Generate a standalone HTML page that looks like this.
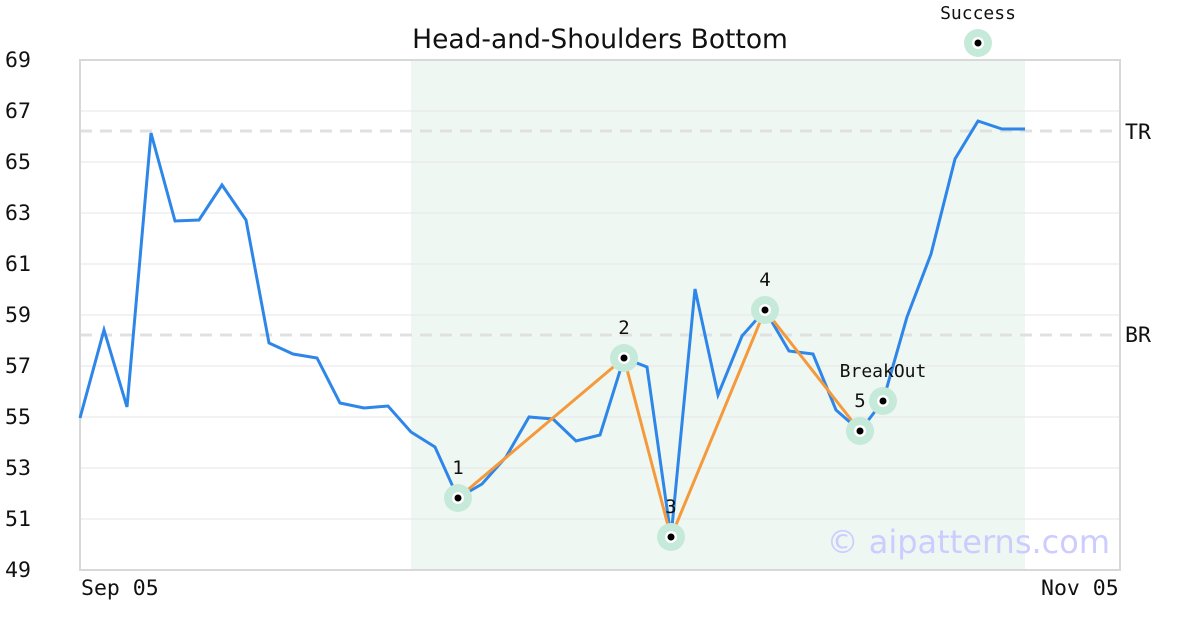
<!DOCTYPE html>
<html><head><meta charset="utf-8"><style>
html,body{margin:0;padding:0;background:#fff;}
svg{display:block;}
</style></head><body>
<svg width="1200" height="630" xmlns="http://www.w3.org/2000/svg" font-family="DejaVu Sans Mono, Liberation Mono, monospace">
<rect width="1200" height="630" fill="#fff"/>
<rect x="411" y="60" width="614" height="510" fill="#eff7f3"/>
<g stroke="#e6e6e6" stroke-width="1">
<line x1="80" x2="1120" y1="111" y2="111"/><line x1="80" x2="1120" y1="162" y2="162"/>
<line x1="80" x2="1120" y1="213" y2="213"/><line x1="80" x2="1120" y1="264" y2="264"/>
<line x1="80" x2="1120" y1="315" y2="315"/><line x1="80" x2="1120" y1="366" y2="366"/>
<line x1="80" x2="1120" y1="417" y2="417"/><line x1="80" x2="1120" y1="468" y2="468"/>
<line x1="80" x2="1120" y1="519" y2="519"/>
</g>
<g stroke="#e0e0e0" stroke-width="3" stroke-dasharray="12,8">
<line x1="80" x2="1120" y1="131" y2="131"/><line x1="80" x2="1120" y1="335" y2="335"/>
</g>
<rect x="80" y="60" width="1040" height="510" fill="none" stroke="#d8d8d8" stroke-width="2"/>
<g font-size="21.5" fill="#111">
<text x="5" y="67">69</text><text x="5" y="118">67</text><text x="5" y="169">65</text>
<text x="5" y="220">63</text><text x="5" y="271">61</text><text x="5" y="322">59</text>
<text x="5" y="373">57</text><text x="5" y="424">55</text><text x="5" y="475">53</text>
<text x="5" y="526">51</text><text x="5" y="577">49</text>
<text x="81" y="595">Sep 05</text><text x="1041" y="595">Nov 05</text>
<text x="1125" y="139">TR</text><text x="1125" y="342">BR</text>
</g>
<text x="600" y="48" text-anchor="middle" font-family="DejaVu Sans, Liberation Sans, sans-serif" font-size="26.5" fill="#111">Head-and-Shoulders Bottom</text>
<text x="1110" y="553" text-anchor="end" font-family="DejaVu Sans, Liberation Sans, sans-serif" font-size="32" fill="#ccccff">© aipatterns.com</text>
<polyline fill="none" stroke="#2e86e8" stroke-width="3" points="80,418 104,330 127,407 151,133 175,221 199,220 222,185 246,220 269,343 293,354 317,358 340,403 364,408 388,406 411,432 435,447 458,498 482,484 506,457 529,417 553,419 576,441 600,435 624,358 647,367 671,537 695,289 718,395 742,336 765,310 789,351 813,354 836,410 860,431 883,401 907,317 931,254 955,159 978,121 1002,129 1025,129"/>
<polyline fill="none" stroke="#f59a3c" stroke-width="3" points="458,498 624,358 671,537 765,310 860,431"/>
<g fill="#c5ead9">
<circle cx="458" cy="498" r="14"/><circle cx="624" cy="358" r="14"/><circle cx="671" cy="537" r="14"/>
<circle cx="765" cy="310" r="14"/><circle cx="860" cy="431" r="14"/><circle cx="883" cy="401" r="14"/>
<circle cx="978" cy="43" r="14"/>
</g>
<g fill="#fff">
<circle cx="458" cy="498" r="6"/><circle cx="624" cy="358" r="6"/><circle cx="671" cy="537" r="6"/>
<circle cx="765" cy="310" r="6"/><circle cx="860" cy="431" r="6"/><circle cx="883" cy="401" r="6"/>
<circle cx="978" cy="43" r="6"/>
</g>
<g fill="#000">
<circle cx="458" cy="498" r="3.5"/><circle cx="624" cy="358" r="3.5"/><circle cx="671" cy="537" r="3.5"/>
<circle cx="765" cy="310" r="3.5"/><circle cx="860" cy="431" r="3.5"/><circle cx="883" cy="401" r="3.5"/>
<circle cx="978" cy="43" r="3.5"/>
</g>
<g font-size="19" fill="#111" text-anchor="middle">
<text x="458" y="474">1</text><text x="624" y="334">2</text><text x="671" y="513">3</text>
<text x="765" y="286">4</text><text x="860" y="407">5</text>
<text x="883" y="377" font-size="18">BreakOut</text>
<text x="978" y="19" font-size="18">Success</text>
</g>
</svg>
</body></html>
